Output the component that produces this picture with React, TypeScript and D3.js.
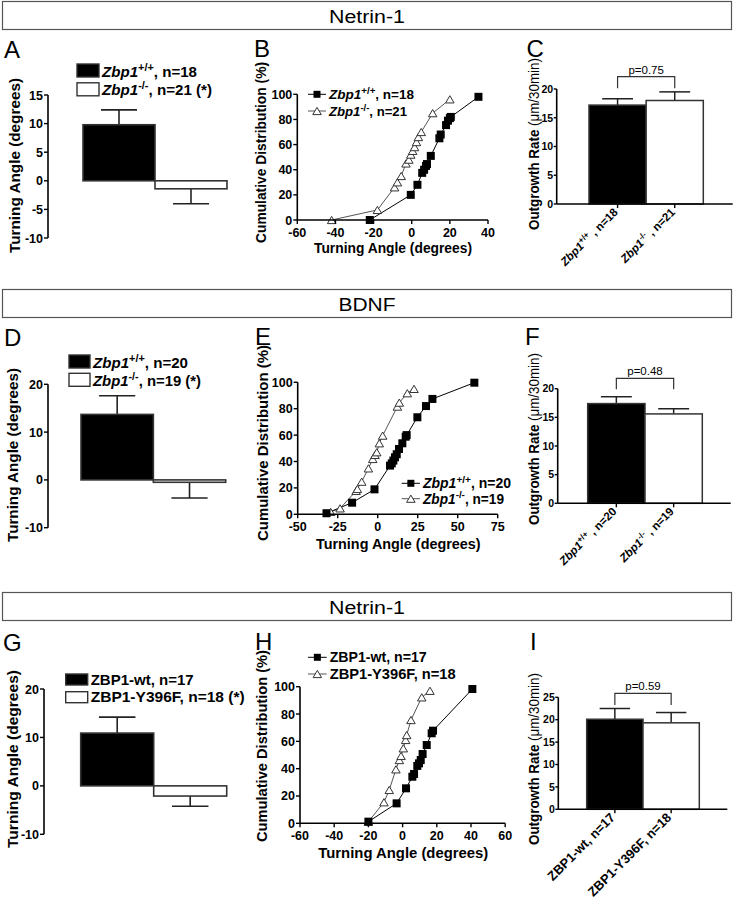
import React from "react";
import * as d3 from "d3";

const FONT = "'Liberation Sans', Arial, Helvetica, sans-serif";

// ---------------- Data ----------------
const headerTitles = ["Netrin-1", "BDNF", "Netrin-1"];
const panelLetters = ["A", "B", "C", "D", "E", "F", "G", "H", "I"];

// Turning angle (mean ± SEM)
const groupsA = ["Zbp1+/+", "Zbp1-/-"];
const meanA = [9.8, -1.4];
const semA = [2.6, 2.6];
const nA = [18, 21];
const ticksA = [-10, -5, 0, 5, 10, 15];

const groupsD = ["Zbp1+/+", "Zbp1-/-"];
const meanD = [13.7, -0.5];
const semD = [3.9, 3.3];
const nD = [20, 19];
const ticksD = [-10, 0, 10, 20];

const groupsG = ["ZBP1-wt", "ZBP1-Y396F"];
const meanG = [10.9, -2.1];
const semG = [3.3, 2.1];
const nG = [17, 18];
const ticksG = [-10, 0, 10, 20];

// Cumulative distributions (turning angle, cumulative %)
const angleB_wt = [-22, -0.5, 3, 5.5, 6.5, 7.5, 8, 10, 14.5, 15.2, 18, 19, 20, 20.5, 35];
const pctB_wt = [0, 20, 28, 37.5, 40, 43, 44.5, 51, 65, 68, 75.5, 79, 81, 82, 98];
const angleB_ko = [-42, -18, -9, -7.5, -5.5, -3, -1.5, -0.5, 0.5, 1.5, 2.5, 3.5, 5, 11, 20];
const pctB_ko = [0, 8, 26, 30, 35, 45, 48, 52, 55, 58, 62, 66, 70, 85, 96];
const ticksBx = [-60, -40, -20, 0, 20, 40];

const angleE_wt = [-32, -16, -2, 7.7, 8.8, 9.8, 10.8, 11.9, 13.3, 15.4, 17.5, 18.1, 24.8, 30.2, 34.2, 60.4];
const pctE_wt = [0.8, 8.8, 18.9, 36.9, 38.6, 40.7, 43.2, 45.5, 49.5, 53.8, 58.8, 60, 73.5, 82, 87.4, 99.7];
const angleE_ko = [-29.4, -23.5, -13.5, -12.7, -10, -5.8, -3.1, -1.7, -0.6, 1, 3.1, 12.3, 13.5, 18.5, 22.7];
const pctE_ko = [1.8, 4.5, 17.7, 19.2, 24.7, 34.8, 41.9, 45, 47, 53.8, 59.6, 81.6, 84.6, 91.7, 95];
const ticksEx = [-50, -25, 0, 25, 50, 75];

const angleH_wt = [-20, -3.5, 2, 5.7, 6.7, 8.6, 9.6, 10.6, 11.7, 14.1, 17, 17.8, 40.8];
const pctH_wt = [1.2, 14.6, 25.6, 34.1, 36.1, 42, 43.9, 46.3, 50.7, 57.3, 65.9, 67.8, 98.3];
const angleH_ko = [-20, -10.9, -7.8, -3.9, -1.9, -0.9, 0.4, 1.8, 2.4, 4.9, 11.2, 16];
const pctH_ko = [1.2, 15.4, 24.4, 39.5, 46.3, 49.3, 54.9, 61, 64.6, 75.6, 92.2, 97];
const ticksHx = [-60, -40, -20, 0, 20, 40, 60];

const ticksCdfY = [0, 20, 40, 60, 80, 100];

// Outgrowth rate (mean ± SEM)
const rateC = [17.2, 18.0];
const semRateC = [1.1, 1.5];
const pC = "p=0.75";
const rateF = [17.4, 15.6];
const semRateF = [1.2, 0.9];
const pF = "p=0.48";
const rateI = [20.1, 19.3];
const semRateI = [2.4, 2.3];
const pI = "p=0.59";
const ticksRate20 = [0, 5, 10, 15, 20];
const ticksRate25 = [0, 5, 10, 15, 20, 25];

// ---------------- Helpers ----------------
function GenoText({ g, suffix, fs, weight = "bold", len, ...rest }: any) {
  const isZ = g.startsWith("Zbp1");
  const name = isZ ? "Zbp1" : g;
  const sup = isZ ? g.slice(4) : "";
  const up = fs * 0.4;
  const lp = len ? { textLength: len, lengthAdjust: "spacingAndGlyphs" } : {};
  return (
    <text fontFamily={FONT} fontSize={fs} fontWeight={weight} {...lp} {...rest}>
      <tspan fontStyle={isZ ? "italic" : "normal"}>{name}</tspan>
      {sup && (
        <tspan fontSize={fs * 0.72} dy={-up}>
          {sup}
        </tspan>
      )}
      <tspan dy={sup ? up : 0}>{suffix}</tspan>
    </text>
  );
}

function YTitle({ x, y, fs, len, children }: any) {
  return (
    <text
      transform={`translate(${x},${y}) rotate(-90)`}
      textAnchor="middle"
      fontFamily={FONT}
      fontSize={fs}
      fontWeight="bold"
      textLength={len}
      lengthAdjust="spacingAndGlyphs"
    >
      {children}
    </text>
  );
}

function YAxis({ scale, ticks, x, tick = 4, fs = 12.5, gap = 1 }: any) {
  return (
    <g>
      <line x1={x} x2={x} y1={scale(ticks[0])} y2={scale(ticks[ticks.length - 1])} stroke="#000" strokeWidth={1.6} />
      {ticks.map((t: number) => (
        <g key={t}>
          <line x1={x - tick} x2={x} y1={scale(t)} y2={scale(t)} stroke="#000" strokeWidth={1.4} />
          <text
            x={x - tick - gap}
            y={scale(t)}
            dy="0.36em"
            textAnchor="end"
            fontFamily={FONT}
            fontSize={fs}
            fontWeight="bold"
          >
            {t}
          </text>
        </g>
      ))}
    </g>
  );
}

// ---------------- Turning angle bar panel ----------------
function TurnBars({ groups, mean, sem, n, ticks, axisX, yRange, barRange, legend, title }: any) {
  const y = d3.scaleLinear().domain([ticks[0], ticks[ticks.length - 1]]).range(yRange);
  const x = d3.scaleBand<string>().domain(groups).range(barRange).padding(0);
  const bw = x.bandwidth();
  return (
    <g>
      {groups.map((g: string, i: number) => {
        const v = mean[i];
        const top = y(Math.max(0, v));
        const bot = y(Math.min(0, v));
        const cx = (x(g) as number) + bw / 2;
        const e = v >= 0 ? v + sem[i] : v - sem[i];
        return (
          <g key={g}>
            <line x1={cx} x2={cx} y1={y(v)} y2={y(e)} stroke="#222" strokeWidth={1.6} />
            <line x1={cx - bw * 0.25} x2={cx + bw * 0.25} y1={y(e)} y2={y(e)} stroke="#222" strokeWidth={1.6} />
            <rect
              x={x(g)}
              y={top}
              width={bw}
              height={Math.max(bot - top, 1)}
              fill={i === 0 ? "#000" : "#fff"}
              stroke="#333"
              strokeWidth={1.6}
            />
          </g>
        );
      })}
      <YAxis scale={y} ticks={ticks} x={axisX} />
      {groups.map((g: string, i: number) => (
        <g key={"lg" + g}>
          <rect
            x={legend.x}
            y={legend.y + i * legend.dy}
            width={legend.w}
            height={legend.h}
            fill={i === 0 ? "#000" : "#fff"}
            stroke="#333"
            strokeWidth={1.4}
          />
          <GenoText
            g={g}
            suffix={`, n=${n[i]}${i === 1 ? " (*)" : ""}`}
            fs={legend.fs}
            len={legend.len[i]}
            x={legend.x + legend.w + 3}
            y={legend.y + i * legend.dy + legend.h - 0.5}
          />
        </g>
      ))}
      <YTitle x={title.x} y={title.y} fs={15} len={title.len}>
        Turning Angle (degrees)
      </YTitle>
    </g>
  );
}

// ---------------- Cumulative distribution panel ----------------
function Square({ x, y, s = 8 }: any) {
  return <rect x={x - s / 2} y={y - s / 2} width={s} height={s} fill="#000" />;
}
function Tri({ x, y, s = 8.5 }: any) {
  const h = s * 0.85;
  return (
    <path
      d={`M${x},${y - h / 2}L${x + s / 2},${y + h / 2}L${x - s / 2},${y + h / 2}Z`}
      fill="#fff"
      stroke="#333"
      strokeWidth={1}
    />
  );
}

function Cdf({ xTicks, xRange, yRange, wt, ko, legend, xTitle, yTitle, labels }: any) {
  const x = d3.scaleLinear().domain([xTicks[0], xTicks[xTicks.length - 1]]).range(xRange);
  const y = d3.scaleLinear().domain([0, 100]).range(yRange);
  const line = d3
    .line<[number, number]>()
    .x((d) => x(d[0]))
    .y((d) => y(d[1]));
  const wtPts: [number, number][] = wt[0].map((a: number, i: number) => [a, wt[1][i]]);
  const koPts: [number, number][] = ko[0].map((a: number, i: number) => [a, ko[1][i]]);
  const y0 = y(0);
  return (
    <g>
      <path d={line(koPts) || ""} fill="none" stroke="#555" strokeWidth={1} />
      <path d={line(wtPts) || ""} fill="none" stroke="#000" strokeWidth={1} />
      {koPts.map((p, i) => (
        <Tri key={"k" + i} x={x(p[0])} y={y(p[1])} />
      ))}
      {wtPts.map((p, i) => (
        <Square key={"w" + i} x={x(p[0])} y={y(p[1])} />
      ))}
      <YAxis scale={y} ticks={ticksCdfY} x={xRange[0]} />
      <line x1={xRange[0]} x2={xRange[1]} y1={y0} y2={y0} stroke="#000" strokeWidth={1.6} />
      {xTicks.map((t: number) => (
        <g key={t}>
          <line x1={x(t)} x2={x(t)} y1={y0} y2={y0 + 4} stroke="#000" strokeWidth={1.4} />
          <text x={x(t)} y={y0 + 17} textAnchor="middle" fontFamily={FONT} fontSize={12.5} fontWeight="bold">
            {t}
          </text>
        </g>
      ))}
      {[0, 1].map((i) => {
        const ly = legend.y + i * legend.dy;
        const mx = (legend.x1 + legend.x2) / 2;
        return (
          <g key={"lg" + i}>
            <line x1={legend.x1} x2={legend.x2} y1={ly} y2={ly} stroke={i === 0 ? "#000" : "#555"} strokeWidth={1} />
            {i === 0 ? <Square x={mx} y={ly} s={7} /> : <Tri x={mx} y={ly} />}
            <GenoText
              g={labels[i]}
              suffix={`, n=${legend.n[i]}`}
              fs={legend.fs}
              len={legend.len[i]}
              x={legend.x2 + 3}
              y={ly + 5}
            />
          </g>
        );
      })}
      <text
        x={xTitle.x}
        y={xTitle.y}
        textAnchor="middle"
        fontFamily={FONT}
        fontSize={15}
        fontWeight="bold"
        textLength={xTitle.len}
        lengthAdjust="spacingAndGlyphs"
      >
        Turning Angle (degrees)
      </text>
      <YTitle x={yTitle.x} y={yTitle.y} fs={15} len={yTitle.len}>
        Cumulative Distribution (%)
      </YTitle>
    </g>
  );
}

// ---------------- Outgrowth rate panel ----------------
function Rate({ groups, n, mean, sem, ticks, axisX, axisEnd, yRange, barRange, bracket, pText, title, sep, labFs }: any) {
  const y = d3.scaleLinear().domain([ticks[0], ticks[ticks.length - 1]]).range(yRange);
  const x = d3.scaleBand<string>().domain(groups).range(barRange).padding(0);
  const bw = x.bandwidth();
  const y0 = y(0);
  const centers = groups.map((g: string) => (x(g) as number) + bw / 2);
  return (
    <g>
      {groups.map((g: string, i: number) => {
        const cx = centers[i];
        const e = mean[i] + sem[i];
        return (
          <g key={g}>
            <line x1={cx} x2={cx} y1={y(mean[i])} y2={y(e)} stroke="#222" strokeWidth={1.5} />
            <line x1={cx - bw * 0.27} x2={cx + bw * 0.27} y1={y(e)} y2={y(e)} stroke="#222" strokeWidth={1.5} />
            <rect
              x={x(g)}
              y={y(mean[i])}
              width={bw}
              height={y0 - y(mean[i])}
              fill={i === 0 ? "#000" : "#fff"}
              stroke="#333"
              strokeWidth={1.5}
            />
          </g>
        );
      })}
      <YAxis scale={y} ticks={ticks} x={axisX} tick={3} fs={10.5} gap={0.5} />
      <line x1={axisX} x2={axisEnd} y1={y0} y2={y0} stroke="#000" strokeWidth={1.6} />
      {groups.map((g: string, i: number) => (
        <g key={"xt" + g}>
          <line x1={centers[i]} x2={centers[i]} y1={y0} y2={y0 + 4} stroke="#000" strokeWidth={1.4} />
          <GenoText
            g={g}
            suffix={`${sep}n=${n[i]}`}
            fs={labFs}
            textAnchor="end"
            transform={`translate(${centers[i] + 1},${y0 + 9}) rotate(-45)`}
          />
        </g>
      ))}
      <path
        d={`M${centers[0]},${bracket.y2}V${bracket.y}H${centers[1]}V${bracket.y2}`}
        fill="none"
        stroke="#333"
        strokeWidth={1.2}
      />
      <text
        x={(centers[0] + centers[1]) / 2}
        y={bracket.y - 3}
        textAnchor="middle"
        fontFamily={FONT}
        fontSize={11.5}
      >
        {pText}
      </text>
      <text
        transform={`translate(${title.x},${title.y}) rotate(-90)`}
        textAnchor="middle"
        fontFamily={FONT}
        fontSize={14}
        textLength={172}
        lengthAdjust="spacingAndGlyphs"
      >
        <tspan fontWeight="bold">Outgrowth Rate </tspan>
        <tspan>(μm/30min)</tspan>
      </text>
    </g>
  );
}

// ---------------- App ----------------
export default function App() {
  const headerY = [1.5, 289.5, 592.5];
  const letterPos: [number, number][] = [
    [4, 57.5], [254, 57.3], [526.5, 57.3],
    [4, 346], [255, 345], [525, 345],
    [3, 650.7], [255, 650], [530, 650],
  ];
  return (
    <div style={{ position: "absolute", left: 0, top: 0 }}>
      <svg width={734} height={900} style={{ display: "block", background: "#fff" }}>
        {headerTitles.map((t, i) => (
          <g key={i}>
            <rect x={2.5} y={headerY[i]} width={729} height={28} fill="#fff" stroke="#555" strokeWidth={1.2} />
            <text
              x={367}
              y={headerY[i] + 21}
              textAnchor="middle"
              fontFamily={FONT}
              fontSize={18}
              textLength={i === 1 ? 57 : 76}
              lengthAdjust="spacingAndGlyphs"
            >
              {t}
            </text>
          </g>
        ))}
        {panelLetters.map((l, i) => (
          <text key={l} x={letterPos[i][0]} y={letterPos[i][1]} fontFamily={FONT} fontSize={24}>
            {l}
          </text>
        ))}

        {/* A */}
        <TurnBars
          groups={groupsA} mean={meanA} sem={semA} n={nA} ticks={ticksA}
          axisX={48} yRange={[238, 95]} barRange={[83, 227]}
          legend={{ x: 77, y: 64, dy: 18.8, w: 22, h: 13, fs: 15, len: [95, 110] }}
          title={{ x: 19.5, y: 165.5, len: 175 }}
        />
        {/* D */}
        <TurnBars
          groups={groupsD} mean={meanD} sem={semD} n={nD} ticks={ticksD}
          axisX={48} yRange={[527.7, 384.3]} barRange={[81, 225.7]}
          legend={{ x: 69, y: 355, dy: 18.3, w: 21, h: 13, fs: 15, len: [95, 108] }}
          title={{ x: 17.5, y: 455, len: 174 }}
        />
        {/* G */}
        <TurnBars
          groups={groupsG} mean={meanG} sem={semG} n={nG} ticks={ticksG}
          axisX={44} yRange={[834.3, 689]} barRange={[80.7, 226.7]}
          legend={{ x: 65.7, y: 674, dy: 17.7, w: 22, h: 11, fs: 15, len: [103, 154] }}
          title={{ x: 17.5, y: 759, len: 178 }}
        />

        {/* B */}
        <Cdf
          xTicks={ticksBx} xRange={[297.3, 488]} yRange={[220, 94.3]}
          wt={[angleB_wt, pctB_wt]} ko={[angleB_ko, pctB_ko]}
          labels={groupsA}
          legend={{ x1: 308, x2: 326, y: 94.3, dy: 16.7, n: nA, fs: 13.5, len: [85, 78] }}
          xTitle={{ x: 393, y: 253.3, len: 158 }}
          yTitle={{ x: 266, y: 152.5, len: 181 }}
        />
        {/* E */}
        <Cdf
          xTicks={ticksEx} xRange={[297.7, 497.7]} yRange={[514.3, 382.3]}
          wt={[angleE_wt, pctE_wt]} ko={[angleE_ko, pctE_ko]}
          labels={groupsD}
          legend={{ x1: 401.7, x2: 420, y: 483.3, dy: 15.4, n: nD, fs: 13.8, len: [88, 81] }}
          xTitle={{ x: 398.3, y: 549.3, len: 164.7 }}
          yTitle={{ x: 267.5, y: 443, len: 196 }}
        />
        {/* H */}
        <Cdf
          xTicks={ticksHx} xRange={[300, 505.2]} yRange={[823.3, 686.7]}
          wt={[angleH_wt, pctH_wt]} ko={[angleH_ko, pctH_ko]}
          labels={groupsG}
          legend={{ x1: 308, x2: 326.7, y: 657.3, dy: 16.7, n: nG, fs: 14, len: [97, 126] }}
          xTitle={{ x: 403.3, y: 858, len: 170 }}
          yTitle={{ x: 267, y: 746, len: 192 }}
        />

        {/* C */}
        <Rate
          groups={groupsA} n={nA} mean={rateC} sem={semRateC} ticks={ticksRate20}
          axisX={556.7} axisEnd={732.7} yRange={[204, 89]} barRange={[589, 703.3]}
          bracket={{ y: 76.7, y2: 88.3 }} pText={pC} title={{ x: 538.5, y: 144 }} sep=" , " labFs={11.5}
        />
        {/* F */}
        <Rate
          groups={groupsD} n={nD} mean={rateF} sem={semRateF} ticks={ticksRate20}
          axisX={557.7} axisEnd={730.7} yRange={[503.3, 388.7]} barRange={[587.7, 702.3]}
          bracket={{ y: 378.3, y2: 389.3 }} pText={pF} title={{ x: 538.5, y: 439 }} sep=" , " labFs={11.5}
        />
        {/* I */}
        <Rate
          groups={groupsG} n={nG} mean={rateI} sem={semRateI} ticks={ticksRate25}
          axisX={558.3} axisEnd={727.3} yRange={[809.3, 697.3]} barRange={[586.7, 699.3]}
          bracket={{ y: 693.3, y2: 705 }} pText={pI} title={{ x: 539, y: 759 }} sep=", " labFs={13}
        />
      </svg>
    </div>
  );
}
